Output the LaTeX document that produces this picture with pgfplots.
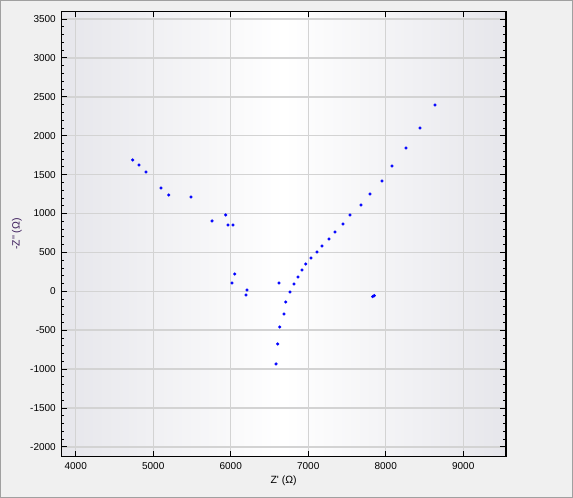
\documentclass[border=0pt]{standalone}
\usepackage{pgfplots}
\pgfplotsset{compat=1.18}
\usepackage{fontspec}
\setmainfont{Liberation Sans}
\definecolor{bgframe}{HTML}{F0F0F0}
\definecolor{frameline}{HTML}{A0A0A0}
\definecolor{gridc}{HTML}{D3D3D3}
\definecolor{shadec}{HTML}{E6E6EB}
\definecolor{ylab}{HTML}{3A1A5A}
\begin{document}
\begin{tikzpicture}[x=1pt,y=1pt]
\fill[bgframe] (0,0) rectangle (573,498);
\draw[frameline,line width=1pt] (0.5,0.5) rectangle (572.5,497.5);
\begin{axis}[
  at={(61.3pt,41.3pt)}, anchor=south west,
  scale only axis, width=444.7pt, height=445.4pt,
  xmin=3814, xmax=9552, ymin=-2126, ymax=3599,
  xtick={4000,5000,...,9000},
  ytick={-2000,-1500,...,3500},
  minor y tick num=4,
  major tick length=6pt, minor tick length=3pt,
  tick style={black, line width=0.9pt},
  minor tick style={black, line width=0.8pt},
  axis line style={black, line width=1.3pt},
  grid=major,
  major grid style={gridc, line width=1.4pt},
  axis background/.style={left color=shadec, right color=shadec, middle color=white},
  /pgf/number format/assume math mode=true,
  /pgf/number format/set thousands separator={},
  ticklabel style={font=\fontsize{10}{12}\selectfont},
  yticklabel style={xshift=-2pt},
  xticklabel style={yshift=-2.5pt},
  xlabel={Z\textquotesingle\ (Ω)},
  ylabel={-Z\textquotesingle\textquotesingle\ (Ω)},
  every axis x label/.style={at={(axis description cs:0.5,-0.0546)}, anchor=center, font=\fontsize{10.5}{12}\selectfont},
  every axis y label/.style={at={(axis description cs:-0.0996,0.5)}, anchor=center, rotate=90, font=\fontsize{10.5}{12}\selectfont, text=ylab},
]
\addplot[only marks, mark=*, mark size=1.4pt, color=blue, mark options={fill=blue, draw=blue}] coordinates {
(4735,1688) (4817,1623) (4907,1533) (5101,1328) (5200,1238) (5488,1212)
(5759,904) (5935,981) (5965,852) (6030,852)
(6052,222) (6017,107) (6210,17) (6197,-48)
(6623,107) (6585,-934) (6606,-677) (6632,-459) (6687,-292) (6710,-138)
(6765,-9) (6817,94) (6868,184) (6920,274) (6968,351) (7036,428)
(7114,505) (7178,582) (7268,672) (7346,762) (7449,865) (7539,981)
(7681,1109) (7797,1251) (7952,1418) (8081,1611) (8262,1842) (8443,2099)
(8636,2395) (7832,-68) (7852,-56)
};
\end{axis}
\end{tikzpicture}
\end{document}
